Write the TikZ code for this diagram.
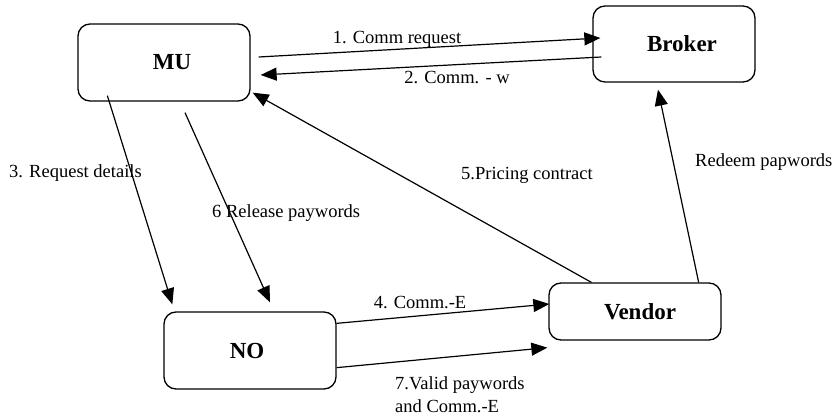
\documentclass[tikz,border=0pt]{standalone}
\usepackage{fontspec}
\setmainfont{Liberation Serif}
\usetikzlibrary{arrows.meta,calc}
\begin{document}
\begin{tikzpicture}[x=1pt,y=-1pt,
  box/.style={draw,line width=1.3pt,rounded corners=12pt,inner sep=0pt,
    font=\fontsize{23}{27}\selectfont\bfseries},
  lbl/.style={inner sep=0pt,font=\fontsize{18.5}{23}\selectfont},
  conn/.style={line width=1.2pt,-{Triangle[length=16pt,width=13pt]}}]
\useasboundingbox (0,0) rectangle (836,419);
\fill[white] (0,0) rectangle (836,419);
% boxes
\node[box,minimum width=172pt,minimum height=77pt] (MU) at (164,62.5) {\hspace*{16pt}MU};
\node[box,minimum width=162pt,minimum height=76pt] (Broker) at (674,44) {\hspace*{16pt}Broker};
\node[box,minimum width=172pt,minimum height=77pt] (NO) at (250,350.5) {NO\hspace*{6pt}};
\node[box,minimum width=172pt,minimum height=57pt] (Vendor) at (635,311.5) {\hspace*{10pt}Vendor};
% connectors
\draw[conn] ([shift={(8,-5.5)}]MU.east) -- ([shift={(8,-6)}]Broker.west);
\draw[conn] ([shift={(9,13)}]Broker.west) -- ([shift={(10,12.5)}]MU.east);
\draw[conn] ([shift={(30,-6)}]MU.south west) -- ([shift={(9,-7)}]NO.north west);
\draw[conn] ([shift={(21,11)}]MU.south) -- ([shift={(20,-9)}]NO.north);
\draw[conn] ([shift={(43,0)}]Vendor.north west) -- ([shift={(2,-9)}]MU.south east);
\draw[conn] ([shift={(-23,0)}]Vendor.north east) -- ([shift={(-16,7)}]Broker.south);
\draw[conn] ([shift={(0,12)}]NO.north east) -- ([shift={(1,-7.5)}]Vendor.west);
\draw[conn] ([shift={(0,-22)}]NO.south east) -- ([shift={(-1,7)}]Vendor.south west);
% labels
\node[lbl] (l1) at (397,39) {1. Comm request};
\node[lbl] (l2) at (457,78) {2. Comm. - w};
\node[lbl,anchor=west] (l3) at (9,173) {3. Request details};
\node[lbl,anchor=west] (l6) at (212,213) {6 Release paywords};
\node[lbl] (l5) at (527,175) {5.Pricing contract};
\node[lbl,anchor=west] (lr) at (695,162) {Redeem papwords};
\node[lbl] (l4) at (420,303) {4. Comm.-E};
\node[lbl,anchor=south west,align=left] (l7) at (395,413) {7.Valid paywords\\and Comm.-E};
\end{tikzpicture}
\end{document}
